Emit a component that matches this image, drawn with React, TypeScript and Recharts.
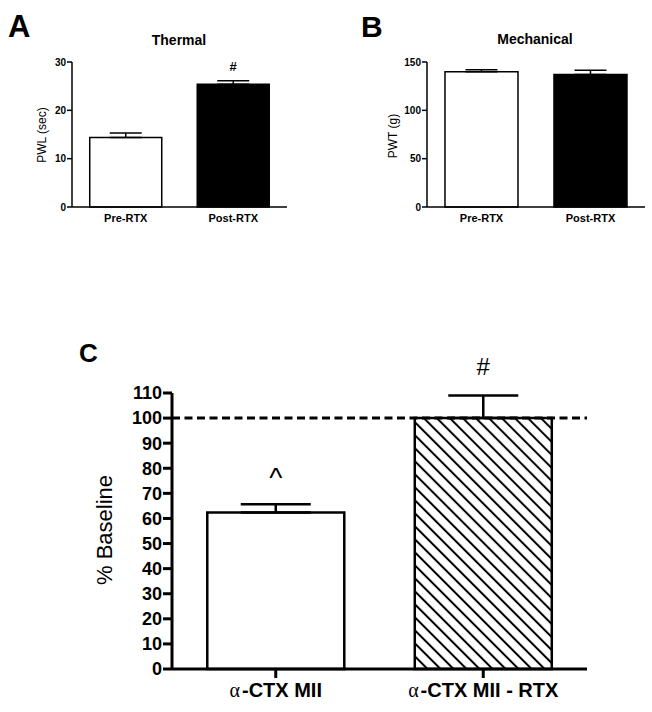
import { Bar, BarChart, Cell, ErrorBar, LabelList, ReferenceLine, XAxis, YAxis } from "recharts";

const FONT = "Arial, 'Liberation Sans', Helvetica, sans-serif";
const INK = "#000";

// A + B: before / after RTX
const rtxGroups = ["Pre-RTX", "Post-RTX"];
const thermalPwl = [14.4, 25.4];
const thermalSem = [0.9, 0.7];
const thermalMarks = ["", "#"];
const thermalTicks = [0, 10, 20, 30];

const mechPwt = [140, 137];
const mechSem = [2, 4.5];
const mechMarks = ["", ""];
const mechTicks = [0, 50, 100, 150];

// C: % of baseline
const ctxGroups = ["α-CTX MII", "α-CTX MII - RTX"];
const ctxPct = [62.4, 100];
const ctxSem = [3.3, 9];
const ctxMarks = ["^", "#"];
const pctTicks = [0, 10, 20, 30, 40, 50, 60, 70, 80, 90, 100, 110];
const BASELINE = 100;

const rows = (names: string[], means: number[], sems: number[], marks: string[]) =>
  names.map((name, i) => ({ name, mean: means[i], err: [0, sems[i]], mark: marks[i] }));

const thermalData = rows(rtxGroups, thermalPwl, thermalSem, thermalMarks);
const mechData = rows(rtxGroups, mechPwt, mechSem, mechMarks);
const ctxData = rows(ctxGroups, ctxPct, ctxSem, ctxMarks);

type MarkStyle = Record<string, { size: number; gap: number; weight: string }>;

// significance mark sitting above the error bar
function markLabel(means: number[], sems: number[], styles: MarkStyle) {
  return (props: any) => {
    const { x, y, width, height, index, value } = props;
    if (!value) return null;
    const s = styles[value];
    const errTop = Number(y) - (sems[index] * Number(height)) / means[index];
    return (
      <text
        x={Number(x) + Number(width) / 2}
        y={errTop - s.gap}
        textAnchor="middle"
        fontFamily={FONT}
        fontSize={s.size}
        fontWeight={s.weight}
        fill={INK}
      >
        {value}
      </text>
    );
  };
}

const smallTick = { fontSize: 10, fontWeight: "bold", fill: INK, fontFamily: FONT };
const smallCat = { fontSize: 11, fontWeight: "bold", fill: INK, fontFamily: FONT };

function SmallPanel({
  data,
  ticks,
  means,
  sems,
  left,
  width,
  margin,
}: {
  data: any[];
  ticks: number[];
  means: number[];
  sems: number[];
  left: number;
  width: number;
  margin: { top: number; right: number; bottom: number; left: number };
}) {
  return (
    <div style={{ position: "absolute", left, top: 0 }}>
      <BarChart width={width} height={235} data={data} margin={margin} barCategoryGap="16.5%">
        <XAxis
          dataKey="name"
          height={20}
          tickLine={false}
          tickSize={0}
          tickMargin={7}
          axisLine={{ stroke: INK, strokeWidth: 1.5 }}
          tick={smallCat}
        />
        <YAxis
          width={40}
          domain={[ticks[0], ticks[ticks.length - 1]]}
          ticks={ticks}
          interval={0}
          tickSize={5}
          tickMargin={1}
          axisLine={{ stroke: INK, strokeWidth: 1.5 }}
          tickLine={{ stroke: INK, strokeWidth: 1.5 }}
          tick={smallTick}
        />
        <Bar dataKey="mean" stroke={INK} strokeWidth={1.5} isAnimationActive={false}>
          {data.map((_, i) => (
            <Cell key={i} fill={i === 0 ? "#fff" : INK} />
          ))}
          <ErrorBar dataKey="err" width={16} stroke={INK} strokeWidth={1.5} direction="y" isAnimationActive={false} />
          <LabelList dataKey="mark" content={markLabel(means, sems, { "#": { size: 13, gap: 10, weight: "bold" } })} />
        </Bar>
      </BarChart>
    </div>
  );
}

const CtxTick = (props: any) => {
  const label: string = props.payload.value;
  return (
    <text x={props.x} y={props.y} dy="0.71em" textAnchor="middle" fontFamily={FONT} fontSize={20} fontWeight="bold" fill={INK}>
      <tspan fontWeight="normal" fontFamily="'Liberation Serif', 'DejaVu Serif', serif">
        {label.slice(0, 1)}
      </tspan>
      <tspan dx={2}>{label.slice(1)}</tspan>
    </text>
  );
};

function PanelC() {
  return (
    <div style={{ position: "absolute", left: 0, top: 300 }}>
      <BarChart
        width={652}
        height={412}
        data={ctxData}
        margin={{ top: 93, right: 65, bottom: 3, left: 112 }}
        barCategoryGap="17%"
      >
        <defs>
          <pattern id="hatch" patternUnits="userSpaceOnUse" width={9.2} height={9.2} patternTransform="rotate(-45)">
            <rect width={9.2} height={9.2} fill="#fff" />
            <line x1={4.6} y1={0} x2={4.6} y2={9.2} stroke={INK} strokeWidth={2} />
          </pattern>
        </defs>
        <XAxis
          dataKey="name"
          height={40}
          tickSize={9}
          tickMargin={5}
          axisLine={{ stroke: INK, strokeWidth: 3 }}
          tickLine={{ stroke: INK, strokeWidth: 3 }}
          tick={<CtxTick />}
        />
        <YAxis
          width={60}
          domain={[0, 110]}
          ticks={pctTicks}
          interval={0}
          tickSize={9}
          tickMargin={1}
          axisLine={{ stroke: INK, strokeWidth: 3 }}
          tickLine={{ stroke: INK, strokeWidth: 3 }}
          tick={{ fontSize: 18, fontWeight: "bold", fill: INK, fontFamily: FONT }}
        />
        <Bar dataKey="mean" stroke={INK} strokeWidth={2.5} isAnimationActive={false}>
          {ctxData.map((_, i) => (
            <Cell key={i} fill={i === 0 ? "#fff" : "url(#hatch)"} />
          ))}
          <ErrorBar dataKey="err" width={35} stroke={INK} strokeWidth={2.5} direction="y" isAnimationActive={false} />
          <LabelList
            dataKey="mark"
            content={markLabel(ctxPct, ctxSem, {
              "#": { size: 24, gap: 21, weight: "normal" },
              "^": { size: 28, gap: 17, weight: "normal" },
            })}
          />
        </Bar>
        <ReferenceLine y={BASELINE} stroke={INK} strokeWidth={3} strokeDasharray="8 4.5" />
      </BarChart>
    </div>
  );
}

export default function App() {
  return (
    <div style={{ position: "absolute", left: 0, top: 0, width: 652, height: 712, background: "#fff" }}>
      <SmallPanel
        data={thermalData}
        ticks={thermalTicks}
        means={thermalPwl}
        sems={thermalSem}
        left={0}
        width={300}
        margin={{ top: 62, right: 13, bottom: 8, left: 32 }}
      />
      <SmallPanel
        data={mechData}
        ticks={mechTicks}
        means={mechPwt}
        sems={mechSem}
        left={330}
        width={322}
        margin={{ top: 62, right: 7, bottom: 8, left: 57 }}
      />
      <PanelC />
      <svg
        width={652}
        height={712}
        style={{ position: "absolute", left: 0, top: 0, pointerEvents: "none" }}
        fontFamily={FONT}
        fill={INK}
      >
        <text x={8} y={37} fontSize={31} fontWeight="bold">A</text>
        <text x={361} y={37} fontSize={30} fontWeight="bold">B</text>
        <text x={79} y={362} fontSize={26} fontWeight="bold">C</text>
        <text x={179} y={45} fontSize={14} fontWeight="bold" textAnchor="middle">Thermal</text>
        <text x={535} y={44} fontSize={14} fontWeight="bold" textAnchor="middle">Mechanical</text>
        <text transform="translate(46,135) rotate(-90)" fontSize={12} textAnchor="middle">PWL (sec)</text>
        <text transform="translate(397,136) rotate(-90)" fontSize={12} textAnchor="middle">PWT (g)</text>
        <text transform="translate(112,530) rotate(-90)" fontSize={22} textAnchor="middle">% Baseline</text>
      </svg>
    </div>
  );
}
